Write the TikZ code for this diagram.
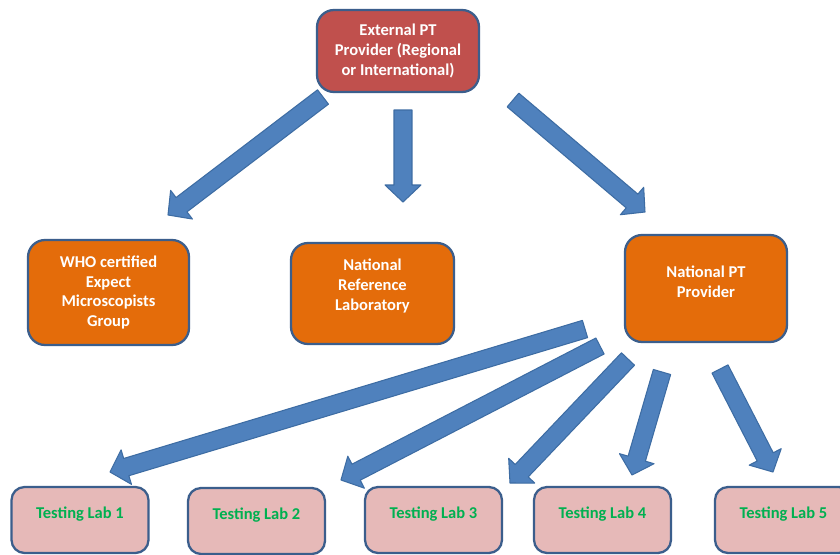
\documentclass[tikz,border=0pt]{standalone}
\usepackage{fontspec}
\setmainfont{Carlito}
\usetikzlibrary{calc}
\definecolor{extred}{HTML}{C0504D}
\definecolor{natorange}{HTML}{E46C0A}
\definecolor{labpink}{HTML}{E6B9B8}
\definecolor{labgreen}{HTML}{00B050}
\definecolor{boxborder}{HTML}{3B5E8C}
\definecolor{arrowblue}{HTML}{4F81BD}
\definecolor{arrowedge}{HTML}{3D6CA3}
\newcommand{\boxlift}[1]{\rule[-#1]{0pt}{0pt}}
\newcommand{\blockarrow}[2]{%
  \coordinate (head) at ($(#2)!0.34cm!(#1)$);
  \draw[blockarr] ($(#1)!0.18cm!90:(#2)$) -- ($(head)!0.18cm!90:(#2)$) -- ($(head)!0.36cm!90:(#2)$) -- (#2)
    -- ($(head)!0.36cm!-90:(#2)$) -- ($(head)!0.18cm!-90:(#2)$) -- ($(#1)!0.18cm!-90:(#2)$) -- cycle;}

\begin{document}
\begin{tikzpicture}[
  x=0.02cm, y=-0.02cm,
  box/.style={draw=boxborder, line width=1.3pt, rounded corners=0.34cm, fill=#1, text=white, align=center, font=\bfseries\fontsize{9.4}{11.3}\selectfont},
  labbox/.style={box=labpink, rounded corners=0.26cm, text=labgreen, minimum width=2.74cm, minimum height=1.32cm, execute at end node={\boxlift{0.3cm}}},
  blockarr/.style={fill=arrowblue, draw=arrowedge, line width=0.6pt, line join=round},
]
  \useasboundingbox (0,0) rectangle (840,555);
  \fill[white] (0,0) rectangle (840,555);

  \node[box=extred, minimum width=3.24cm, minimum height=1.64cm] (ext) at (398,51) {External PT\\Provider (Regional\\or International)};
  \node[box=natorange, minimum width=3.22cm, minimum height=2.1cm] (who) at (108.5,292.5) {WHO certified\\Expect\\Microscopists\\Group};
  \node[box=natorange, minimum width=3.26cm, minimum height=2.02cm] (nrl) at (372.5,293.5) {National\\Reference\\Laboratory\boxlift{0.36cm}};
  \node[box=natorange, minimum width=3.24cm, minimum height=2.14cm] (npt) at (706,288.5) {National PT\\Provider\boxlift{0.27cm}};

  \node[labbox] (lab1) at (80,520) {Testing Lab 1};
  \node[labbox] (lab2) at (256.5,521) {Testing Lab 2};
  \node[labbox] (lab3) at (433.5,520) {Testing Lab 3};
  \node[labbox] (lab4) at (602.5,520) {Testing Lab 4};
  \node[labbox] (lab5) at (783.5,520) {Testing Lab 5};

  % arrow ends
  \coordinate (ext-a) at (323,97);
  \coordinate (who-a) at (168,215);
  \coordinate (ext-b) at (403,110);
  \coordinate (nrl-a) at (403,202);
  \coordinate (ext-c) at (513,100);
  \coordinate (npt-a) at (645,212);
  \coordinate (npt-1) at (585,329);
  \coordinate (lab1-a) at (110,472);
  \coordinate (npt-2) at (600,346);
  \coordinate (lab2-a) at (341,480);
  \coordinate (npt-3) at (628,359);
  \coordinate (lab3-a) at (510,483);
  \coordinate (npt-4) at (662,372);
  \coordinate (lab4-a) at (632,475);
  \coordinate (npt-5) at (720,369);
  \coordinate (lab5-a) at (773,472);

  \blockarrow{ext-a}{who-a}
  \blockarrow{ext-b}{nrl-a}
  \blockarrow{ext-c}{npt-a}
  \blockarrow{npt-1}{lab1-a}
  \blockarrow{npt-2}{lab2-a}
  \blockarrow{npt-3}{lab3-a}
  \blockarrow{npt-4}{lab4-a}
  \blockarrow{npt-5}{lab5-a}
\end{tikzpicture}
\end{document}
